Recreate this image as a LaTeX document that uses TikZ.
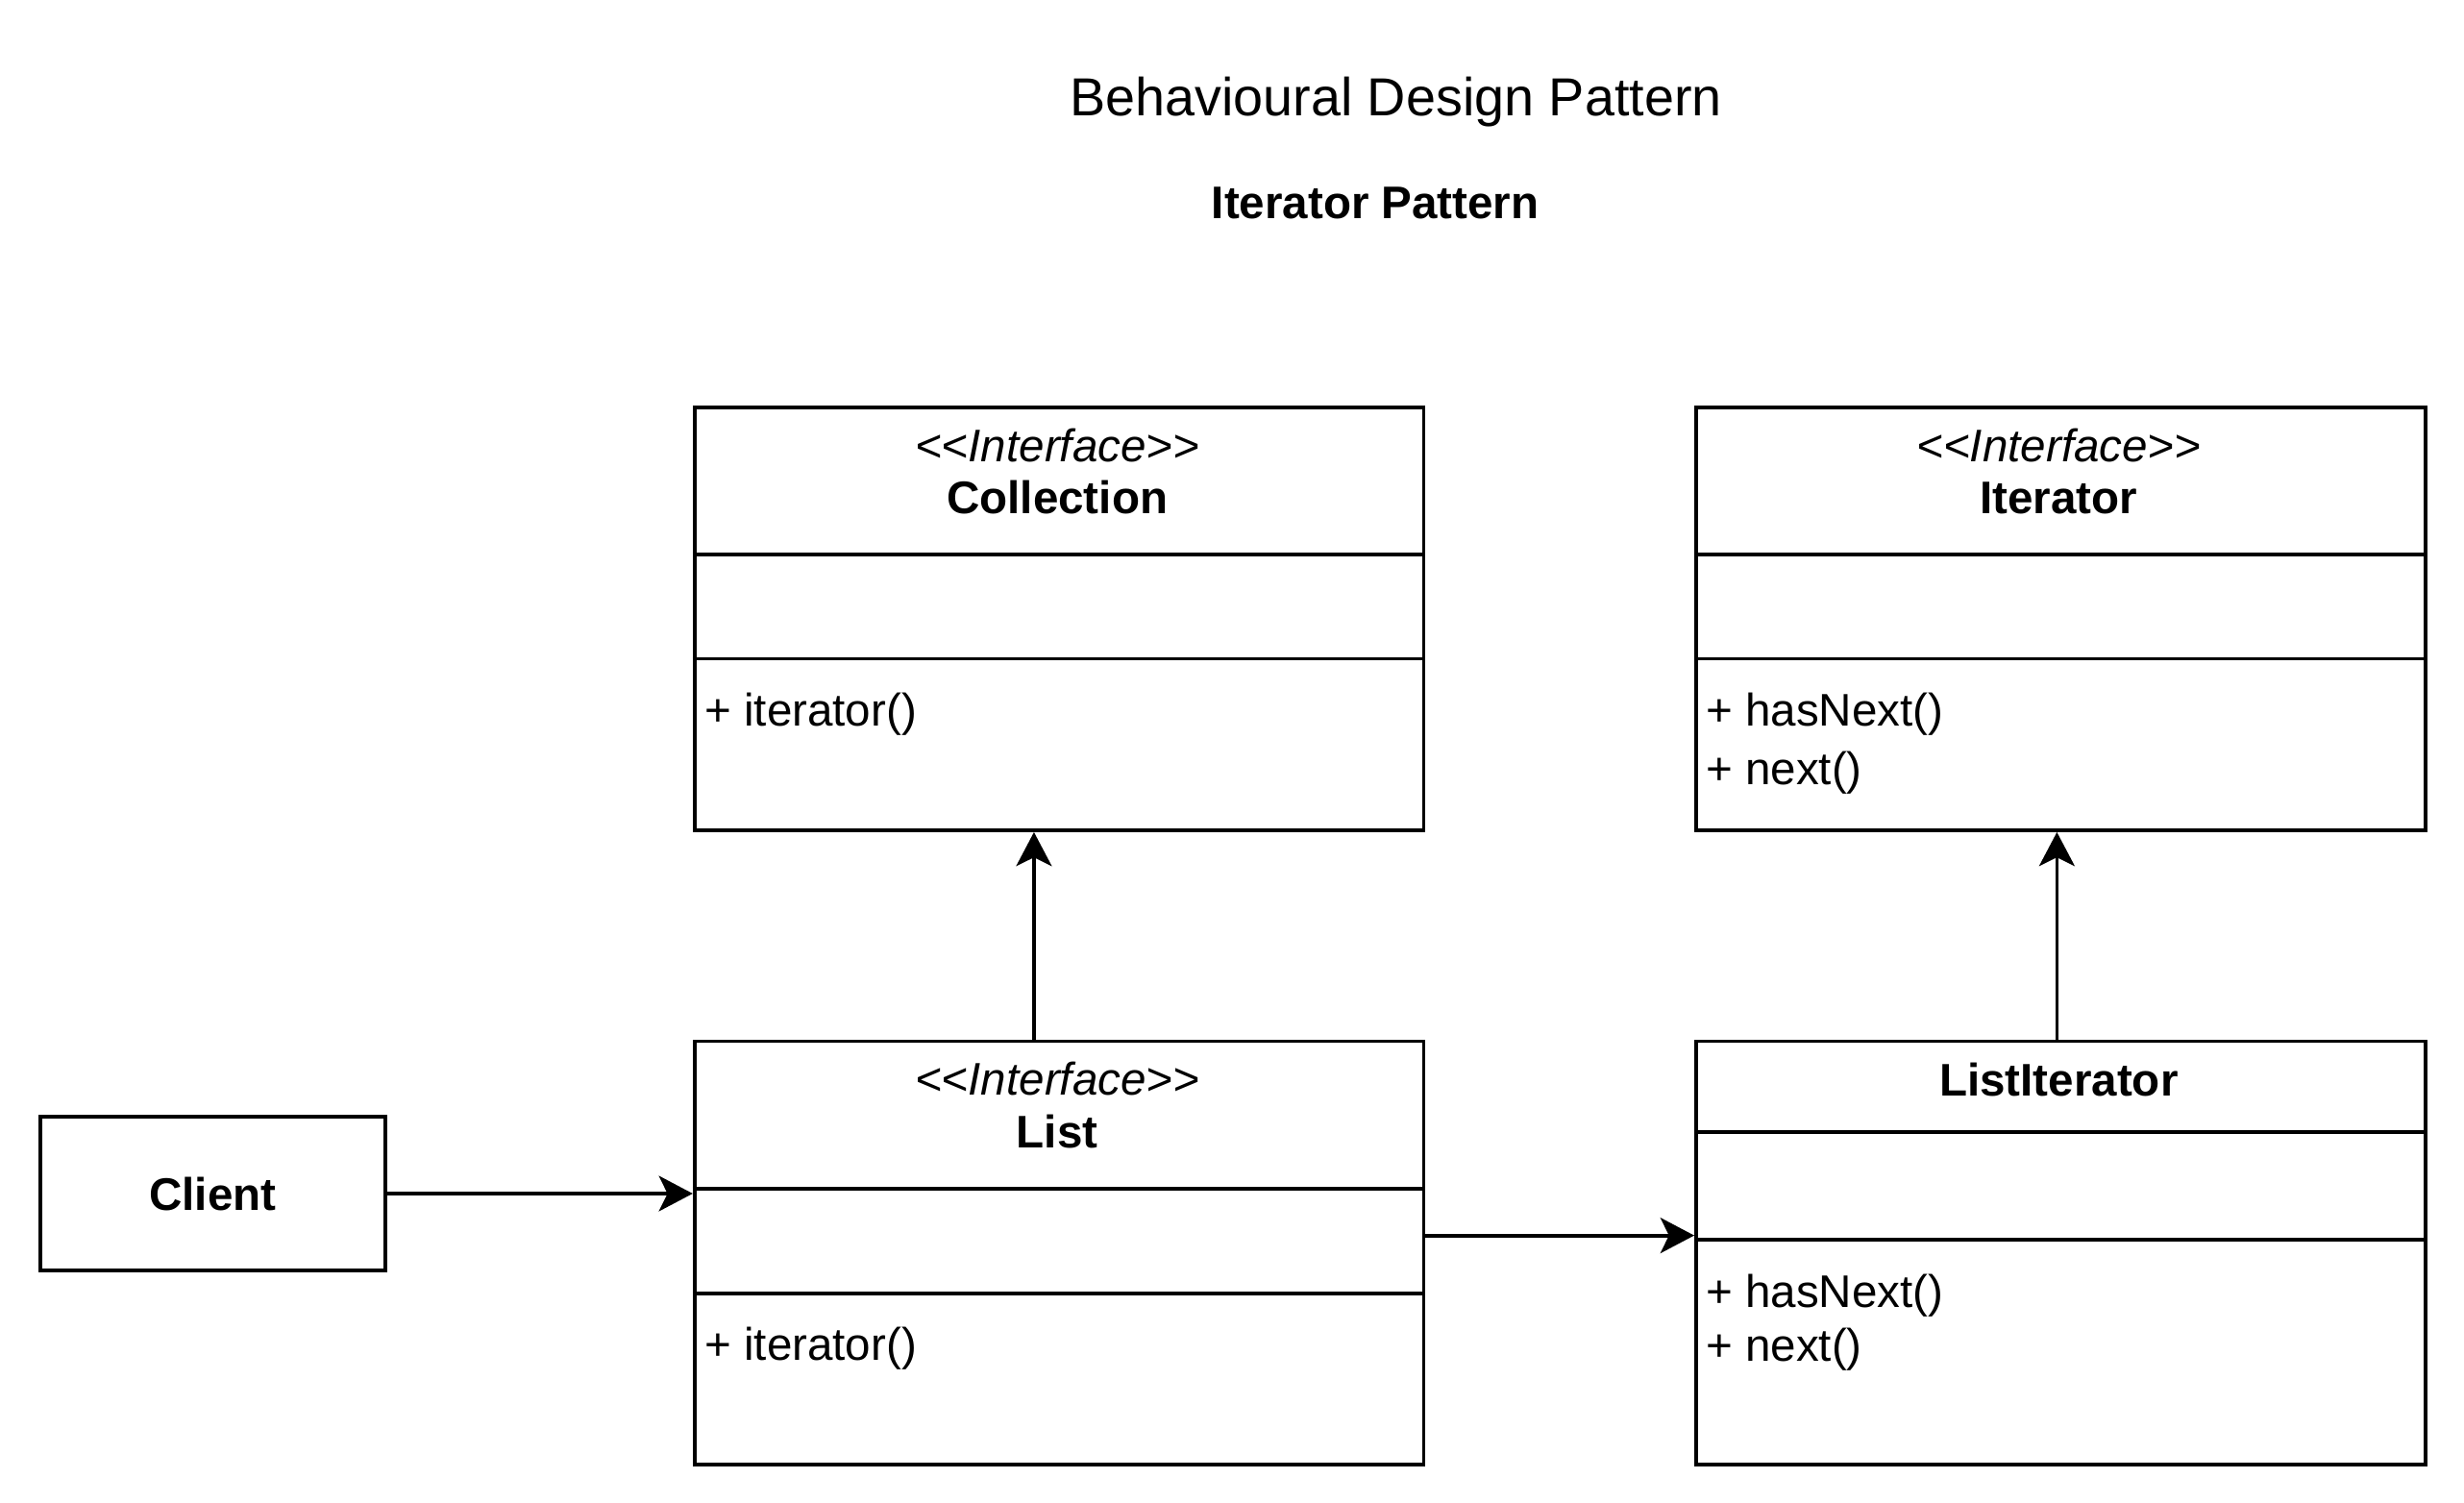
\documentclass[tikz,border=0pt]{standalone}
\usepackage{fontspec}
\setmainfont{Liberation Sans}
\usetikzlibrary{arrows.meta}
\begin{document}
\begin{tikzpicture}[x=1pt,y=-1pt,
  lw/.style={line width=2.3pt},
  classbox/.style={draw, lw, rectangle, inner sep=0pt, anchor=north west,
                   minimum width=462.8pt, minimum height=268.5pt},
  bodytext/.style={font=\fontsize{29}{34}\selectfont, anchor=base west, inner sep=0pt},
  headtext/.style={font=\fontsize{29}{34}\selectfont\bfseries, anchor=base, inner sep=0pt},
  stereotext/.style={font=\fontsize{29}{34}\selectfont\itshape, anchor=base, inner sep=0pt},
  conn/.style={lw, -{Stealth[length=21.5pt,width=22.5pt,inset=5.5pt]}}]
\useasboundingbox (0,0) rectangle (1564,954);

% titles
\node[font=\fontsize{34}{40}\selectfont, anchor=base, inner sep=0pt] (title) at (886,73.2) {Behavioural Design Pattern};
\node[font=\fontsize{29}{34}\selectfont\bfseries, anchor=base, inner sep=0pt] (subtitle) at (873,138.9) {Iterator Pattern};

% Collection
\node[classbox] (coll) at (439.7,257.4) {};
\draw[lw] (coll.west |- 0,352) -- (coll.east |- 0,352);
\draw[lw] (coll.west |- 0,418.2) -- (coll.east |- 0,418.2);
\node[stereotext] (collst) at (671.1,292.8) {<\kern0pt<Interface>\kern0pt>};
\node[headtext] (collname) at (671.1,326.3) {Collection};
\node[bodytext] (collop) at (447.1,461.1) {+ iterator()};

% Iterator
\node[classbox] (iter) at (1075.4,257.4) {};
\draw[lw] (iter.west |- 0,352) -- (iter.east |- 0,352);
\draw[lw] (iter.west |- 0,418.2) -- (iter.east |- 0,418.2);
\node[stereotext] (iterst) at (1306.8,292.8) {<\kern0pt<Interface>\kern0pt>};
\node[headtext] (itername) at (1306.8,326.3) {Iterator};
\node[bodytext] (iterop1) at (1082.7,461.1) {+ hasNext()};
\node[bodytext] (iterop2) at (1082.7,498.2) {+ next()};

% List
\node[classbox] (list) at (439.7,659.8) {};
\draw[lw] (list.west |- 0,754.7) -- (list.east |- 0,754.7);
\draw[lw] (list.west |- 0,820.8) -- (list.east |- 0,820.8);
\node[stereotext] (listst) at (671.1,695.2) {<\kern0pt<Interface>\kern0pt>};
\node[headtext] (listname) at (671.1,728.8) {List};
\node[bodytext] (listop) at (447.1,863.6) {+ iterator()};

% ListIterator
\node[classbox] (listit) at (1075.4,659.8) {};
\draw[lw] (listit.west |- 0,718.4) -- (listit.east |- 0,718.4);
\draw[lw] (listit.west |- 0,786.9) -- (listit.east |- 0,786.9);
\node[headtext] (listitname) at (1306.8,695.4) {ListIterator};
\node[bodytext] (listitop1) at (1082.7,829.6) {+ hasNext()};
\node[bodytext] (listitop2) at (1082.7,864.2) {+ next()};

% Client
\node[draw, lw, rectangle, minimum width=218.8pt, minimum height=97.2pt, inner sep=0pt,
      font=\fontsize{29}{34}\selectfont\bfseries] (client) at (135,757.6) {Client};

% connectors
\draw[conn] (client.east) -- (list.west |- client.east);
\draw[conn] (list.east |- 0,784.2) -- (listit.west |- 0,784.2);
\draw[conn] (list.north -| 656.3,0) -- (coll.south -| 656.3,0);
\draw[conn] (listit.north -| 1305.6,0) -- (iter.south -| 1305.6,0);
\end{tikzpicture}
\end{document}
